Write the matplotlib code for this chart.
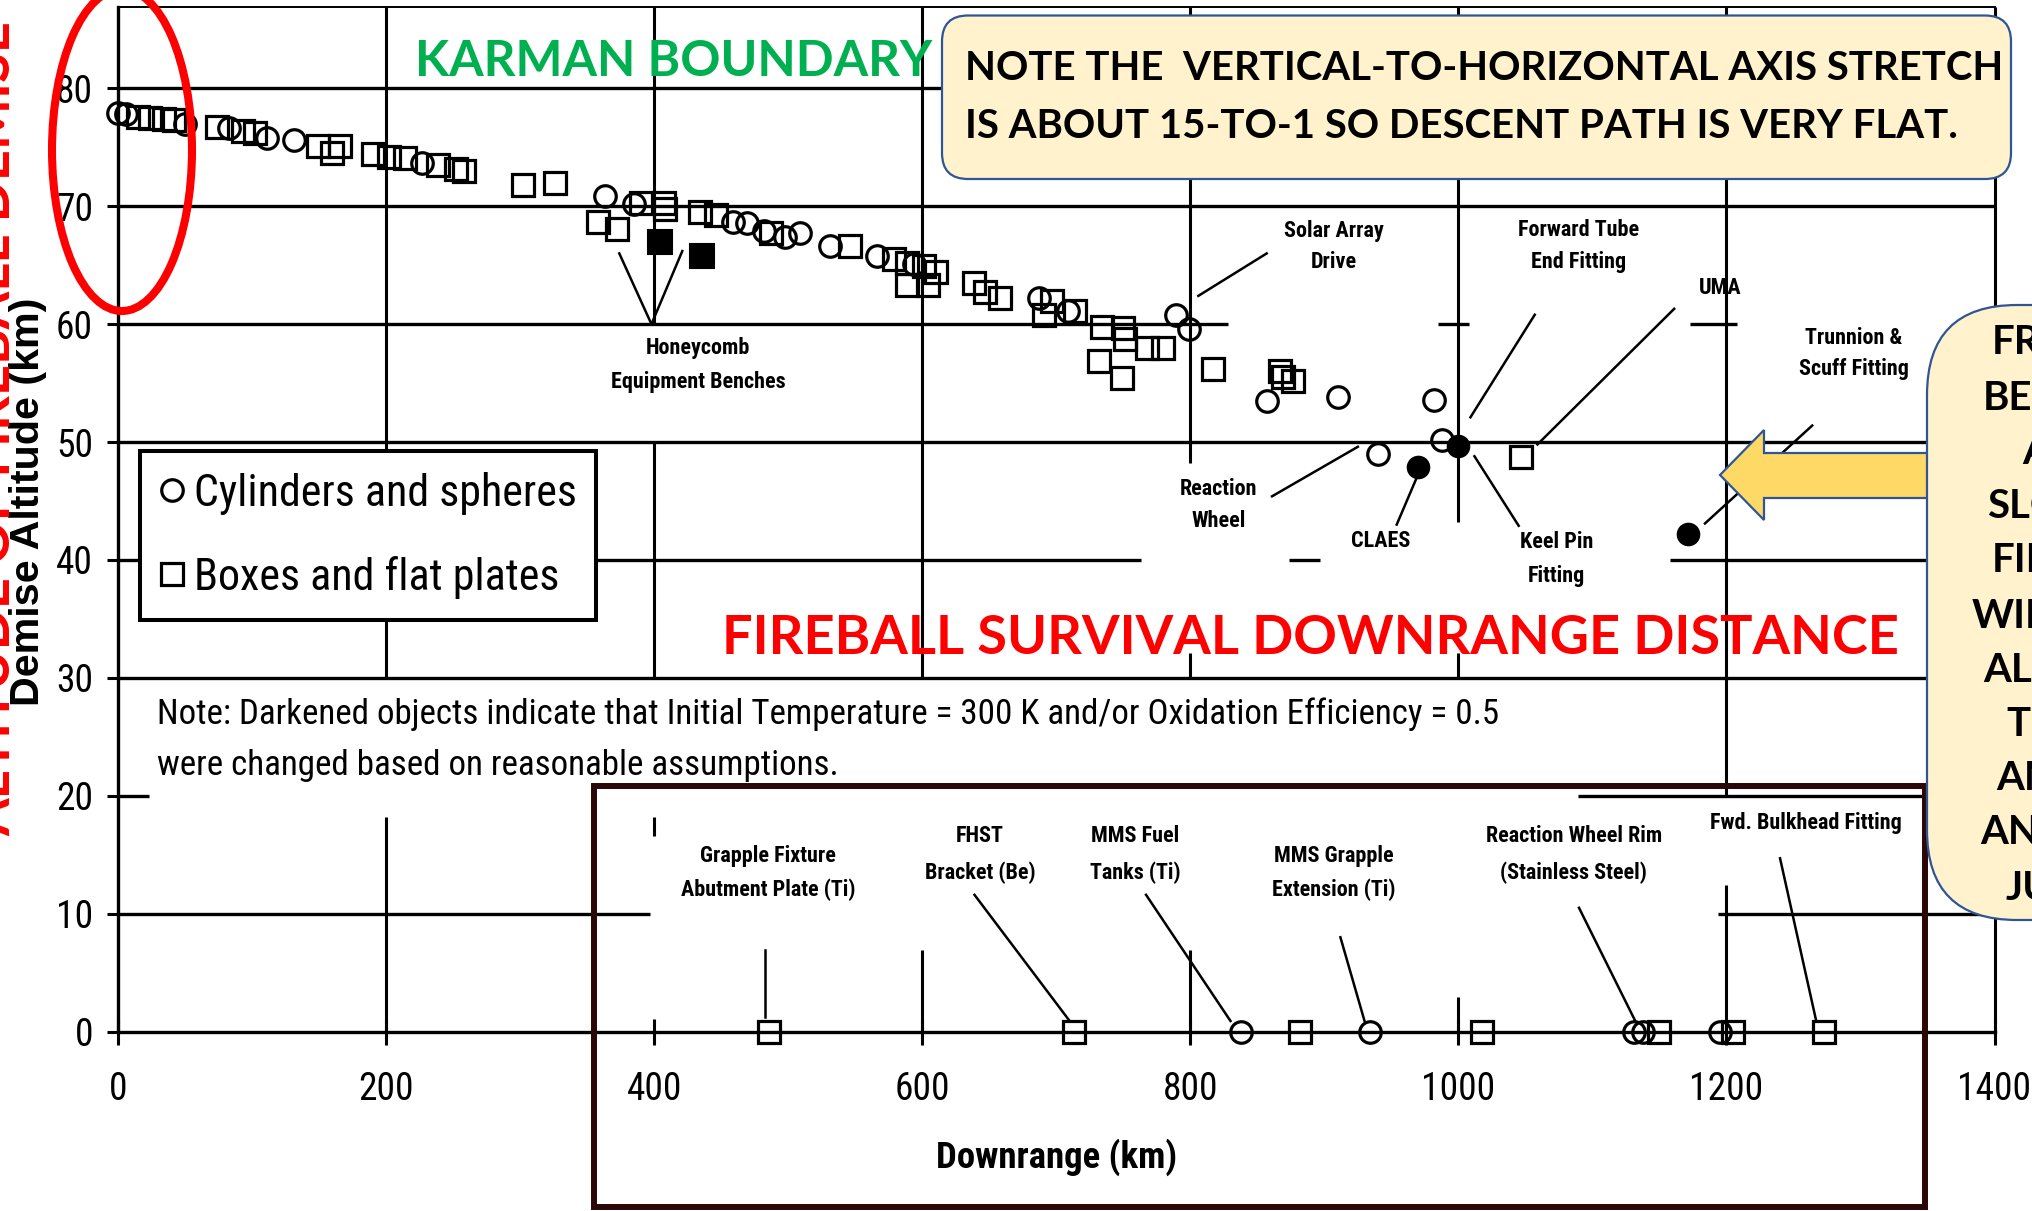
import matplotlib
matplotlib.use("Agg")
import matplotlib.pyplot as plt
from matplotlib import font_manager as fm
from matplotlib.patches import FancyBboxPatch, Ellipse, Polygon, Rectangle
from matplotlib.transforms import IdentityTransform
from matplotlib.lines import Line2D

# ---------------- data ----------------
x_ticks = [0, 200, 400, 600, 800, 1000, 1200, 1400]
y_ticks = [0, 10, 20, 30, 40, 50, 60, 70, 80]

# open circles (cylinders & spheres): (downrange km, demise altitude km)
open_circles = [(0, 77.9), (6, 77.8), (50, 77.0), (83, 76.6), (111, 75.8), (131, 75.6),
                (227, 73.7), (363, 70.9), (385, 70.2), (459, 68.7), (469, 68.6), (482, 67.9),
                (498, 67.4), (509, 67.7), (531, 66.6), (566, 65.8), (594, 65.1), (687, 62.2),
                (709, 61.1), (789, 60.8), (799, 59.6), (857, 53.5), (910, 53.8), (982, 53.6),
                (940, 49.0), (988, 50.2)]
# open squares (boxes & flat plates)
open_squares = [(15, 77.6), (24, 77.5), (34, 77.4), (42, 77.3), (74, 76.7), (93, 76.4),
                (102, 76.2), (149, 75.1), (160, 74.5), (166, 75.1), (190, 74.4), (202, 74.2),
                (214, 74.1), (239, 73.5), (252, 73.2), (258, 73.0), (302, 71.8), (326, 72.0),
                (358, 68.7), (372, 68.1), (390, 70.3), (407, 70.3), (408, 69.8), (434, 69.5),
                (446, 69.3), (487, 67.7), (546, 66.6), (579, 65.5), (589, 65.2), (601, 64.9),
                (610, 64.4), (589, 63.3), (604, 63.3), (639, 63.5), (647, 62.7), (658, 62.2),
                (697, 62.0), (691, 60.8), (714, 61.1), (734, 59.8), (750, 59.7), (732, 56.9),
                (749, 55.4), (751, 58.7), (768, 58.0), (780, 58.0), (817, 56.2), (867, 56.0),
                (877, 55.2), (869, 55.5), (1047, 48.7)]
filled_squares = [(404, 67.0), (436, 65.8)]
filled_circles = [(970, 47.9), (1000, 49.7), (1171, 42.2)]
# objects surviving to the ground (altitude 0)
ground_circles_x = [838, 934, 1131, 1138, 1195]
ground_squares_x = [486, 713, 882, 1018, 1150, 1205, 1273]

# annotation labels (text, x km, y km)
labels = [("Honeycomb", 433, 58.0), ("Equipment Benches", 433, 55.1),
          ("Solar Array", 907, 67.9), ("Drive", 907, 65.3),
          ("Forward Tube", 1090, 68.0), ("End Fitting", 1090, 65.3),
          ("UMA", 1195, 63.1),
          ("Trunnion &", 1295, 58.8), ("Scuff Fitting", 1295, 56.2),
          ("Reaction", 821, 46.0), ("Wheel", 821, 43.3),
          ("CLAES", 942, 41.6),
          ("Keel Pin", 1073, 41.5), ("Fitting", 1073, 38.6),
          ("Grapple Fixture", 485, 14.9), ("Abutment Plate (Ti)", 485, 12.0),
          ("FHST", 643, 16.6), ("Bracket (Be)", 643, 13.5),
          ("MMS Fuel", 759, 16.6), ("Tanks (Ti)", 759, 13.5),
          ("MMS Grapple", 907, 14.9), ("Extension (Ti)", 907, 12.0),
          ("Reaction Wheel Rim", 1086, 16.6), ("(Stainless Steel)", 1086, 13.5),
          ("Fwd. Bulkhead Fitting", 1259, 17.7)]
# leader lines ((x0, y0), (x1, y1)) in km
leaders = [((398, 60.0), (374, 66.0)), ((398, 60.0), (421, 66.2)),
           ((806, 62.4), (857, 66.0)), ((1009, 52.1), (1057, 60.8)),
           ((1059, 49.8), (1161, 61.3)), ((1184, 43.1), (1264, 51.4)),
           ((861, 45.4), (925, 49.6)), ((954, 43.0), (969, 47.0)),
           ((1012, 48.8), (1045, 42.9)),
           ((483, 6.9), (483, 1.2)), ((639, 11.6), (710, 0.9)), ((767, 11.6), (830, 0.9)),
           ((912, 8.0), (930, 0.9)), ((1090, 10.5), (1132, 0.9)), ((1240, 14.7), (1267, 0.9))]

Y_TOP = 86.9
# visible pieces of the (scanned) grid: horizontal (alt, x0, x1), vertical (x, y0, y1)
grid_h = [(80, 0, 1400), (70, 0, 1400), (60, 0, 828), (60, 985, 1008), (60, 1173, 1208),
          (50, 0, 1400), (40, 0, 763), (40, 874, 897), (40, 1158, 1400), (30, 0, 1400),
          (20, 0, 23), (20, 1089, 1400), (10, 0, 397), (10, 1194, 1400)]
grid_v = [(200, 30, Y_TOP), (200, 0, 18.2), (400, 60, Y_TOP), (400, 30, 50), (400, 16.6, 18.2),
          (600, 30, Y_TOP), (600, 0, 6.9), (800, 48.2, Y_TOP), (800, 30, 32.1), (800, 0, 6.9),
          (1000, 43.2, Y_TOP), (1000, 30, 32.1), (1000, 0, 2.9), (1200, 20, Y_TOP),
          (1200, 0, 12.4), (1400, 0, Y_TOP)]

callout_lines = [("FRAGMENTS", 1992, 343), ("BELOW", 1983, 398), ("A", 2022, 452),
                 ("SLOWING", 1987, 507), ("FIREBALL", 1992, 561), ("WILL", 1972, 616),
                 ("ALMOST", 1983, 670), ("TERMINAL", 2006, 724), ("AMBIENT", 1996, 779),
                 ("AND", 1980, 833), ("JUST", 2006, 888)]

# ---------------- fonts ----------------
ttf = fm.fontManager.ttflist
avail = {f.name for f in ttf}
NARROW, STRETCH = None, "normal"
for name in ["Liberation Sans Narrow", "Roboto Condensed", "Open Sans Condensed"]:
    if name in avail:
        NARROW = name
        break
if NARROW is None:
    for name in ["DejaVu Sans", "Noto Sans", "Open Sans", "Roboto"]:
        if any(f.name == name and isinstance(f.stretch, str) and "condensed" in f.stretch
               for f in ttf):
            NARROW, STRETCH = name, "condensed"
            break
if NARROW is None:
    NARROW = "Liberation Sans" if "Liberation Sans" in avail else "DejaVu Sans"
ARIAL = "Liberation Sans" if "Liberation Sans" in avail else "DejaVu Sans"
HEAVY = next((f for f in ["Lato", "Open Sans", "Noto Sans"] if f in avail), "DejaVu Sans")
plt.rcParams["font.family"] = [NARROW, "DejaVu Sans"]
plt.rcParams["font.stretch"] = STRETCH
NF = [NARROW, "DejaVu Sans"]

W, H, DPI = 2032, 1211, 100
fig = plt.figure(figsize=(W / DPI, H / DPI), dpi=DPI)
fig.patch.set_facecolor("white")

AX_L, AX_R, AX_T, AX_B = 118, 1994.5, 7, 1031.6
ax = fig.add_axes([AX_L / W, 1 - AX_B / H, (AX_R - AX_L) / W, (AX_B - AX_T) / H])
ax.set_xlim(0, 1400)
ax.set_ylim(0, Y_TOP)

def F(x, y):
    return x / W, 1 - y / H

LW = 2.4
for sp in ["left", "bottom"]:
    ax.spines[sp].set_linewidth(LW)
ax.spines["top"].set_linewidth(1.4)
ax.spines["right"].set_visible(False)

ax.set_xticks(x_ticks)
ax.set_yticks(y_ticks)
ax.tick_params(axis="x", direction="inout", length=19, width=2.2, pad=19, labelsize=27)
ax.tick_params(axis="y", direction="out", length=8, width=2.2, pad=10, labelsize=27)

for yv, x0, x1 in grid_h:
    ax.hlines(yv, x0, x1, colors="k", lw=LW, clip_on=False, zorder=1)
for xv, y0, y1 in grid_v:
    ax.vlines(xv, y0, y1, colors="k", lw=2.2, clip_on=False, zorder=1)

# inset frame around ground survivors
inset = Rectangle((593.6, H - 1207), 1925 - 593.6, 1207 - 786, transform=IdentityTransform(),
                  fill=False, ec="#2a0808", lw=4.3, zorder=2)
fig.add_artist(inset)

MS = 15.5
ox, oy = zip(*open_circles)
ax.plot(ox, oy, "o", ms=MS, mfc="none", mec="k", mew=2.3, clip_on=False, zorder=4)
sx, sy = zip(*open_squares)
ax.plot(sx, sy, "s", ms=MS, mfc="none", mec="k", mew=2.3, clip_on=False, zorder=4)
fx_, fy_ = zip(*filled_squares)
ax.plot(fx_, fy_, "s", ms=17, mfc="k", mec="k", mew=1.5, clip_on=False, zorder=4)
cx_, cy_ = zip(*filled_circles)
ax.plot(cx_, cy_, "o", ms=MS, mfc="k", mec="k", mew=1.5, clip_on=False, zorder=4)
ax.plot(ground_circles_x, [0] * len(ground_circles_x), "o", ms=MS, mfc="none", mec="k",
        mew=2.3, clip_on=False, zorder=4)
ax.plot(ground_squares_x, [0] * len(ground_squares_x), "s", ms=MS, mfc="none", mec="k",
        mew=2.3, clip_on=False, zorder=4)

for (x0, y0), (x1, y1) in leaders:
    ax.plot([x0, x1], [y0, y1], color="k", lw=1.8, clip_on=False, zorder=3)
ann_texts = []
for s, x, y in labels:
    ann_texts.append(ax.text(x, y, s, ha="center", va="center", fontsize=16,
                             family=NF, fontweight="bold", zorder=5))

handles = [Line2D([], [], marker="o", ls="none", ms=MS, mfc="none", mec="k", mew=2.3),
           Line2D([], [], marker="s", ls="none", ms=MS, mfc="none", mec="k", mew=2.3)]
L0 = (140 - AX_L) / (AX_R - AX_L)
L1 = (596 - AX_L) / (AX_R - AX_L)
LT = (AX_B - 451) / (AX_B - AX_T)
LB = (AX_B - 640) / (AX_B - AX_T)
leg = ax.legend(handles, ["Cylinders and spheres", "Boxes and flat plates"],
                bbox_to_anchor=(L0, LB, L1 - L0, LT - LB), loc="upper left", mode="expand",
                borderaxespad=0, borderpad=0.45, handlelength=0.47, handletextpad=0.23,
                labelspacing=0.87, fancybox=False, framealpha=1, edgecolor="k",
                prop={"family": NF, "size": 33.8})
leg.get_frame().set_linewidth(2.9)
leg.set_zorder(6)

ax.set_xlabel("Downrange (km)", fontsize=28, fontweight="bold", family=NF)
ax.xaxis.set_label_coords(0.5, (AX_B - 1157) / (AX_B - AX_T))
ax.xaxis.label.set_verticalalignment("center")
ax.set_ylabel("Demise Altitude (km)", fontsize=29, fontweight="bold", family=[ARIAL, "DejaVu Sans"],
              fontstretch="normal")
ax.yaxis.set_label_coords((28.5 - AX_L) / (AX_R - AX_L), (AX_B - 502) / (AX_B - AX_T))
ax.yaxis.label.set_verticalalignment("center")

# --- overlay annotations (figure level) ---
fits = []
t_karman = fig.text(*F(674, 62), "KARMAN BOUNDARY", color="#00B050", fontsize=40,
                    fontweight="bold", family=HEAVY, fontstretch="normal",
                    ha="center", va="center", zorder=10)
fits.append((t_karman, 518, "w", []))

t_red = fig.text(*F(1310, 639), "FIREBALL SURVIVAL DOWNRANGE DISTANCE", color="#FF0000",
                 fontsize=40, fontweight="bold", family=HEAVY, fontstretch="normal",
                 ha="center", va="center", zorder=10)
t_red_v = fig.text(10 / W, 1 - 836 / H, "ALTITUDE OF FIREBALL DEMISE", color="#FF0000",
                   fontsize=40, fontweight="bold", family=HEAVY, fontstretch="normal",
                   rotation=90, rotation_mode="anchor", ha="left", va="baseline", zorder=10)
fits.append((t_red, 1176, "w", [t_red_v]))

n1 = fig.text(*F(157, 714), "Note: Darkened objects indicate that Initial Temperature = 300 K "
              "and/or Oxidation Efficiency = 0.5", fontsize=26, family=NF,
              ha="left", va="center", zorder=10)
n2 = fig.text(*F(157, 766), "were changed based on reasonable assumptions.", fontsize=26,
              family=NF, ha="left", va="center", zorder=10)
fits.append((n1, 1344, "w", [n2]))

# note box top right
box = FancyBboxPatch((942, H - 179), 2011 - 942, 179 - 15.5,
                     boxstyle="round,pad=0,rounding_size=26", transform=IdentityTransform(),
                     fc="#FFF2CC", ec="#2F5597", lw=1.6, zorder=8)
fig.add_artist(box)
b1 = fig.text(*F(965, 69), "NOTE THE  VERTICAL-TO-HORIZONTAL AXIS STRETCH", fontsize=30,
              fontweight="bold", family=HEAVY, fontstretch="normal",
              ha="left", va="center", zorder=10)
b2 = fig.text(*F(965, 126), "IS ABOUT 15-TO-1 SO DESCENT PATH IS VERY FLAT.", fontsize=30,
              fontweight="bold", family=HEAVY, fontstretch="normal",
              ha="left", va="center", zorder=10)

# right callout with arrow
arrow = Polygon([(1720, H - 475), (1764, H - 430), (1764, H - 453), (1935, H - 453),
                 (1935, H - 498), (1764, H - 498), (1764, H - 520)], closed=True,
                transform=IdentityTransform(), fc="#FFD966", ec="#2F5597", lw=1.6, zorder=8)
fig.add_artist(arrow)
call = FancyBboxPatch((1927, H - 920), 400, 920 - 305,
                      boxstyle="round,pad=0,rounding_size=90", transform=IdentityTransform(),
                      fc="#FFF2CC", ec="#2F5597", lw=1.6, zorder=9)
fig.add_artist(call)
c_texts = []
for s, x, y in callout_lines:
    c_texts.append(fig.text(*F(x, y), s, fontsize=30, fontweight="bold", family=HEAVY,
                            fontstretch="normal", ha="left", va="center", zorder=10))
fits.append((b1, 1037, "w", [b2] + c_texts))

# red ellipse
ell = Ellipse((122, H - 150), 140, 322, transform=IdentityTransform(), fill=False,
              ec="#FF0000", lw=5.8, zorder=10)
fig.add_artist(ell)

leg_texts = leg.get_texts()
fits.append((ann_texts[1], 174, "w", ann_texts))
fits.append((ax.xaxis.label, 241, "w", []))
fits.append((ax.yaxis.label, 408, "h", []))
fits.append((leg_texts[0], 383, "w", [leg_texts[1]]))

fig.canvas.draw()
r = fig.canvas.get_renderer()
for t, target, dim, followers in fits:
    bb = t.get_window_extent(r)
    cur = bb.width if dim == "w" else bb.height
    s = t.get_fontsize() * target / cur
    t.set_fontsize(s)
    for f in followers:
        f.set_fontsize(s)

fig.savefig("out.png", dpi=DPI)
